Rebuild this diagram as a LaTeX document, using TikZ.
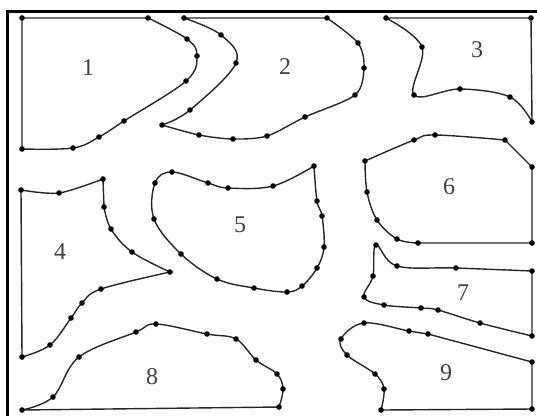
\documentclass[tikz,border=0pt]{standalone}
\usepackage{fontspec}
\setmainfont{Liberation Serif}
\usepackage{tikz}
\usetikzlibrary{calc}

\begin{document}
\begin{tikzpicture}[
    x=1pt, y=-1pt,
    outline/.style={line width=1.4pt, color=black!85, line join=round},
    frame/.style={line width=3pt, color=black},
    num/.style={font=\fontsize{24}{26}\selectfont, color=black!75},
    dot/.style={fill=black}
]
    \useasboundingbox (0,0) rectangle (537,416);

    % Frame
    \draw[frame] (7,416) -- (7,11) -- (537,11);

    % Piece 1
    \draw[outline] (22,149) -- (22,18) -- (148,18)
        -- plot[smooth, tension=0.6] coordinates {(148,18) (187,39) (197,56) (186,81) (124,121) (99,137) (73,148) (22,149)};
    % Piece 2
    \draw[outline] (184,18) -- (327,18)
        -- plot[smooth, tension=0.5] coordinates {(327,18) (358,43) (364,68) (355,95) (305,117) (267,136) (233,139) (199,135) (162,125)}
        -- plot[smooth, tension=0.6] coordinates {(162,125) (190,110) (236,63) (221,35) (184,18)};
    % Piece 3
    \draw[outline] (386,18) -- (531,18) -- (532,122)
        -- plot[smooth, tension=0.6] coordinates {(532,122) (510,97) (460,89) (414,95) (422,47) (386,18)};
    % Piece 4
    \draw[outline] (21,190) -- (22,357)
        -- plot[smooth, tension=0.6] coordinates {(22,357) (50,345) (71,318) (82,303) (101,289) (170,272)}
        -- plot[smooth, tension=0.6] coordinates {(170,272) (132,252) (111,229) (104,207)}
        -- (103,179)
        -- plot[smooth, tension=0.5] coordinates {(103,179) (59,193) (21,190)};
    % Piece 5
    \draw[outline] plot[smooth, tension=0.6] coordinates {(314,166) (317,201) (322,216) (324,247) (317,268) (302,286) (287,292) (254,288) (217,279) (181,254) (154,219) (155,183) (172,172) (208,183) (228,188) (273,186) (314,166)};
    % Piece 6
    \draw[outline] (505,140) -- (532,167) -- (532,243) -- (418,243)
        -- plot[smooth, tension=0.6] coordinates {(418,243) (397,239) (377,220) (367,192) (365,161)}
        -- plot[smooth, tension=0.6] coordinates {(365,161) (414,140) (435,135) (505,140)};
    % Piece 7
    \draw[outline] (532,271) -- (532,336)
        -- plot[smooth, tension=0.6] coordinates {(532,336) (480,323) (438,310) (421,308) (384,305) (364,297) (373,276) (376,245) (397,266) (456,268) (532,271)};
    % Piece 8
    \draw[outline] (279,407) -- (22,410)
        -- plot[smooth, tension=0.6] coordinates {(22,410) (53,397) (79,357) (136,332) (156,324) (207,334) (236,339) (256,360) (277,374) (283,389) (279,407)};
    % Piece 9
    \draw[outline] (428,334) -- (532,362) -- (532,409) -- (381,410)
        -- plot[smooth, tension=0.6] coordinates {(381,410) (384,389) (375,374) (347,355) (341,339) (364,323) (409,331) (428,334)};

    % Dots
    \foreach \p in {(22,18), (148,18), (187,39), (197,56), (186,81), (124,121), (99,137), (73,148), (22,149),
                    (184,18), (327,18), (358,43), (364,68), (355,95), (305,117), (267,136), (233,139), (199,135), (162,125), (190,110), (236,63), (221,35),
                    (386,18), (531,18), (532,122), (510,97), (460,89), (414,95), (422,47),
                    (21,190), (59,193), (103,179), (104,207), (111,229), (132,252), (170,272), (101,289), (82,303), (71,318), (50,345), (22,357),
                    (314,166), (317,201), (322,216), (324,247), (317,268), (302,286), (287,292), (254,288), (217,279), (181,254), (154,219), (155,183), (172,172), (208,183), (228,188), (273,186),
                    (365,161), (414,140), (435,135), (505,140), (532,167), (532,243), (418,243), (397,239), (377,220), (367,192),
                    (376,245), (397,266), (456,268), (532,271), (532,336), (480,323), (438,310), (421,308), (384,305), (364,297), (373,276),
                    (22,410), (53,397), (79,357), (136,332), (156,324), (207,334), (236,339), (256,360), (277,374), (283,389), (279,407),
                    (364,323), (409,331), (428,334), (532,362), (532,409), (381,410), (384,389), (375,374), (347,355), (341,339)}
        \fill[dot] \p circle (2.8pt);

    % Labels
    \node[num] (l1) at (88,68) {1};
    \node[num] (l2) at (285,67) {2};
    \node[num] (l3) at (477,50) {3};
    \node[num] (l4) at (60,252) {4};
    \node[num] (l5) at (240,225) {5};
    \node[num] (l6) at (449,187) {6};
    \node[num] (l7) at (463,293) {7};
    \node[num] (l8) at (152,377) {8};
    \node[num] (l9) at (446,373) {9};
\end{tikzpicture}
\end{document}
